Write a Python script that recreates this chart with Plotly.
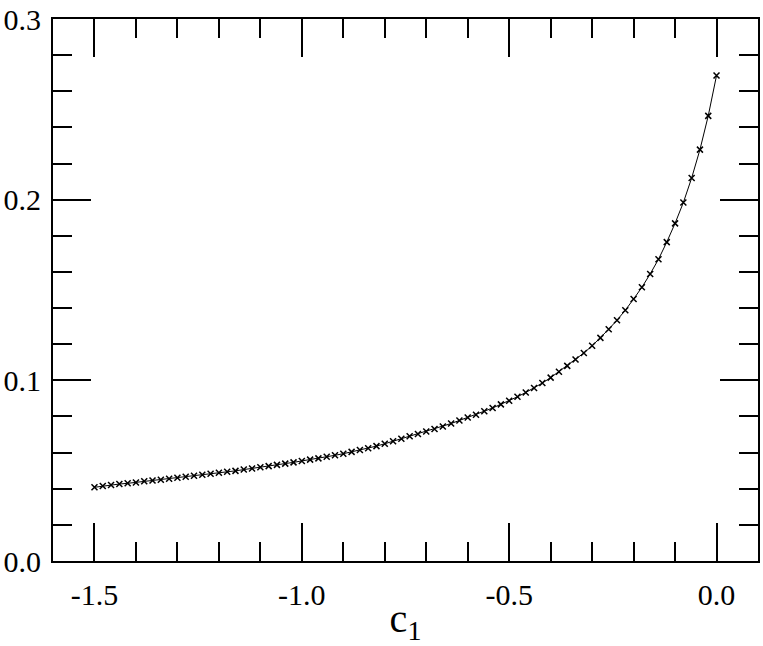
import plotly.graph_objects as go

# c1 values, every 0.02 from -1.5 to 0.0
c1 = [round(-1.5 + 0.02 * i, 2) for i in range(76)]

# values
vals = [
    0.0408, 0.0415, 0.0421, 0.0426, 0.0430, 0.0435, 0.0441, 0.0446, 0.0450, 0.0455,
    0.0461, 0.0466, 0.0472, 0.0477, 0.0483, 0.0488, 0.0494, 0.0499, 0.0506, 0.0512,
    0.0519, 0.0525, 0.0532, 0.0539, 0.0546, 0.0554, 0.0561, 0.0568, 0.0577, 0.0585,
    0.0594, 0.0604, 0.0614, 0.0624, 0.0636, 0.0649, 0.0663, 0.0677, 0.0690, 0.0703,
    0.0717, 0.0731, 0.0745, 0.0761, 0.0778, 0.0794, 0.0810, 0.0829, 0.0847, 0.0867,
    0.0887, 0.0909, 0.0933, 0.0958, 0.0985, 0.1015, 0.1048, 0.1080, 0.1115, 0.1151,
    0.1191, 0.1235, 0.1283, 0.1333, 0.1388, 0.1450, 0.1515, 0.1589, 0.1670, 0.1765,
    0.1869, 0.1984, 0.2120, 0.2277, 0.2464, 0.2687,
]

x_tickvals = [-1.5, -1.0, -0.5, 0.0]
x_ticktext = ["-1.5", "-1.0", "-0.5", "0.0"]
y_tickvals = [0.0, 0.1, 0.2, 0.3]
y_ticktext = ["0.0", "0.1", "0.2", "0.3"]

SERIF = "Liberation Serif"

fig = go.Figure()
fig.add_trace(
    go.Scatter(
        x=c1,
        y=vals,
        mode="lines+markers",
        line=dict(color="black", width=1),
        marker=dict(symbol="x-thin", size=6, line=dict(color="black", width=1.5)),
        showlegend=False,
    )
)

axis_style = dict(
    showline=True,
    linecolor="black",
    linewidth=2,
    mirror="allticks",
    ticks="inside",
    ticklen=38,
    tickwidth=2,
    tickcolor="black",
    showgrid=False,
    zeroline=False,
    ticklabeloverflow="allow",
    tickfont=dict(family=SERIF, size=30, color="black"),
)

fig.update_xaxes(
    range=[-1.6, 0.1],
    tickvals=x_tickvals,
    ticktext=x_ticktext,
    minor=dict(dtick=0.1, tick0=0, ticks="inside", ticklen=19, tickwidth=2, tickcolor="black"),
    title=dict(text="c<sub>1</sub>", font=dict(family=SERIF, size=40, color="black"), standoff=4),
    ticklabelstandoff=6,
    **axis_style,
)
fig.update_yaxes(
    range=[0, 0.30001],
    tickvals=y_tickvals,
    ticktext=y_ticktext,
    minor=dict(dtick=0.02, tick0=0, ticks="inside", ticklen=19, tickwidth=2, tickcolor="black"),
    ticklabelstandoff=4,
    **axis_style,
)

fig.update_layout(
    width=763,
    height=646,
    margin=dict(l=50, r=3, t=14, b=83),
    plot_bgcolor="white",
    paper_bgcolor="white",
    font=dict(family=SERIF, color="black"),
)

fig.write_html(
    "out.html",
    config={"displayModeBar": False},
    post_script="document.body.style.margin='0';",
)
